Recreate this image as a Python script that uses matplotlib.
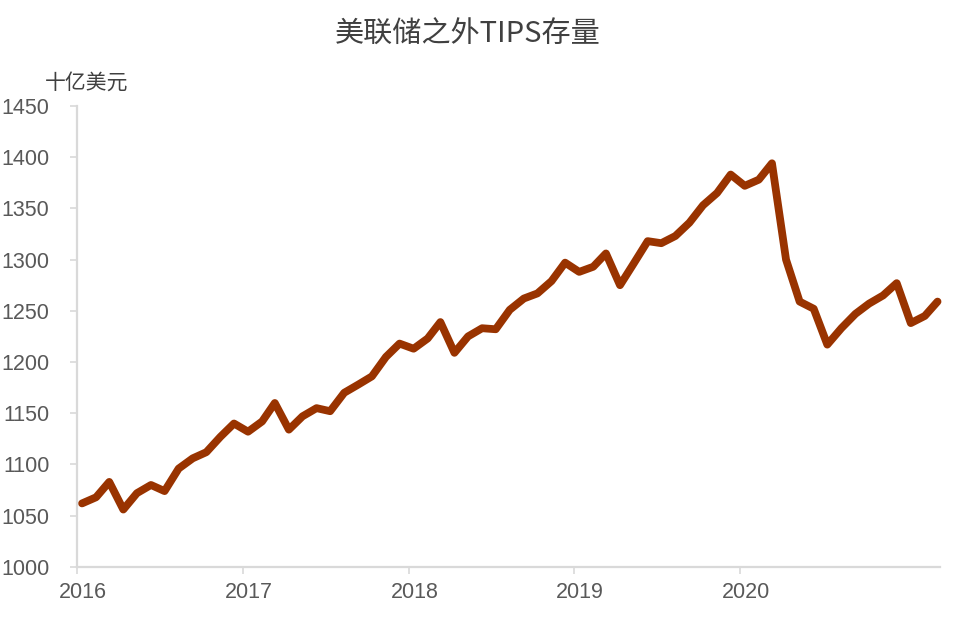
import pandas as pd
import numpy as np
import matplotlib
matplotlib.use("Agg")
import matplotlib.pyplot as plt
import matplotlib.dates as mdates
from matplotlib.transforms import ScaledTranslation

plt.rcParams['font.family'] = ['Liberation Sans', 'Noto Sans CJK SC', 'DejaVu Sans']

# 美联储之外TIPS存量, 十亿美元, 月度 2016-01 ~ 2021-03
months = pd.date_range('2016-01-01', periods=63, freq='MS')
tips_ex_fed = [
    1062, 1068, 1083, 1056, 1072, 1080, 1074, 1096, 1106, 1112, 1127, 1140,
    1132, 1142, 1160, 1134, 1147, 1155, 1152, 1170, 1178, 1186, 1205, 1218,
    1213, 1223, 1239, 1209, 1225, 1233, 1232, 1251, 1262, 1267, 1279, 1297,
    1288, 1293, 1306, 1275, 1296, 1318, 1316, 1323, 1336, 1353, 1365, 1383,
    1372, 1378, 1394, 1300, 1259, 1252, 1217, 1233, 1247, 1257, 1265, 1277,
    1238, 1245, 1259,
]
year_ticks = ['2016', '2017', '2018', '2019', '2020']
y_ticks = list(range(1000, 1451, 50))

line_color = '#993300'
axis_color = '#d9d9d9'
text_color = '#595959'

fig = plt.figure(figsize=(9.57, 6.23), dpi=100)
ax = fig.add_axes([0.0805, 0.09, 0.902, 0.74])

x = months + pd.Timedelta(days=11)
ax.plot(x, tips_ex_fed, color=line_color, linewidth=5.6,
        solid_joinstyle='round', solid_capstyle='round', clip_on=False)

ax.set_ylim(1000, 1450)
ax.set_yticks(y_ticks)
ax.set_xlim(pd.Timestamp('2016-01-01'), pd.Timestamp('2021-03-18'))
ax.set_xticks([pd.Timestamp(y + '-01-01') for y in year_ticks])
ax.set_xticklabels(year_ticks)

for s in ['top', 'right']:
    ax.spines[s].set_visible(False)
for s in ['left', 'bottom']:
    ax.spines[s].set_color(axis_color)
    ax.spines[s].set_linewidth(1.6)

ax.tick_params(axis='y', colors=axis_color, labelcolor=text_color, labelsize=15.5,
               length=5, width=1.2, pad=15)
ax.tick_params(axis='x', colors=axis_color, labelcolor=text_color, labelsize=15.5,
               length=5, width=1.2, pad=6)

# x labels sit a bit right of the ticks in the original
offset = ScaledTranslation(6 / 100, 0, fig.dpi_scale_trans)
for lab in ax.get_xticklabels():
    lab.set_transform(lab.get_transform() + offset)

fig.text(0.489, 0.944, '美联储之外TIPS存量', ha='center', va='center',
         fontsize=21, color='#404040', family=['Noto Sans CJK SC', 'DejaVu Sans'])
fig.text(0.047, 0.868, '十亿美元', ha='left', va='center',
         fontsize=15, color='#404040', family=['Noto Sans CJK SC', 'DejaVu Sans'])

fig.savefig('out.png', dpi=100)
